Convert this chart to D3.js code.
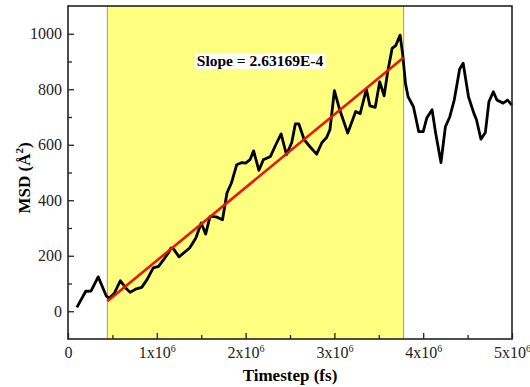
<!DOCTYPE html>
<html>
<head>
<meta charset="utf-8">
<script src="https://cdn.jsdelivr.net/npm/d3@7"></script>
<style>
  body { margin: 0; background: #fff; }
  svg { display: block; font-family: "Liberation Serif", "DejaVu Serif", serif; }
</style>
</head>
<body>
<div id="chart"></div>
<script>
// timestep in units of 1e6 fs
const timestep = [0.10, 0.20, 0.26, 0.34, 0.43, 0.46, 0.52, 0.59, 0.65, 0.70,
  0.77, 0.83, 0.89, 0.96, 1.02, 1.07, 1.13, 1.16, 1.19, 1.25,
  1.37, 1.44, 1.50, 1.55, 1.60, 1.67, 1.74, 1.79, 1.84, 1.90,
  1.96, 2.00, 2.05, 2.09, 2.15, 2.20, 2.28, 2.34, 2.40, 2.46,
  2.52, 2.56, 2.60, 2.66, 2.73, 2.80, 2.86, 2.91, 2.95, 3.00,
  3.06, 3.15, 3.24, 3.29, 3.36, 3.40, 3.46, 3.51, 3.56, 3.60,
  3.65, 3.69, 3.74, 3.77, 3.80, 3.83, 3.89, 3.95, 4.00, 4.04,
  4.10, 4.14, 4.20, 4.25, 4.30, 4.35, 4.41, 4.45, 4.51, 4.57,
  4.60, 4.65, 4.70, 4.74, 4.79, 4.83, 4.90, 4.95, 5.00];
const msd = [14, 72, 73, 124, 56, 47, 64, 110, 84, 68,
  81, 86, 114, 156, 162, 183, 210, 228, 224, 196,
  228, 264, 318, 278, 342, 340, 330, 426, 462, 528,
  536, 534, 546, 578, 508, 546, 558, 600, 639, 564,
  608, 675, 675, 618, 591, 566, 608, 625, 654, 795,
  726, 642, 720, 712, 800, 740, 735, 827, 776, 863,
  947, 957, 995, 923, 822, 773, 737, 647, 647, 696,
  726, 642, 536, 665, 701, 762, 872, 894, 773, 714,
  690, 620, 644, 755, 791, 761, 750, 761, 743];

// fit window and fit line
const fitRange = [0.443, 3.78];
const fitStart = [0.443, 36];
const slope = 2.63169E-4;
const slopeLabel = "Slope = 2.63169E-4";

const xTicks = [0, 1, 2, 3, 4, 5];
const xMinor = [0.5, 1.5, 2.5, 3.5, 4.5];
const yTicks = [0, 200, 400, 600, 800, 1000];
const yMinor = [100, 300, 500, 700, 900];

const width = 530, height = 387;
const margin = {top: 6, right: 18, bottom: 48, left: 68};
const serif = '"Liberation Serif", "DejaVu Serif", serif';

const svg = d3.select("#chart").append("svg")
  .attr("width", width)
  .attr("height", height);

const x = d3.scaleLinear().domain([0, 5]).range([margin.left, width - margin.right]);
const y = d3.scaleLinear().domain([-100, 1100]).range([height - margin.bottom, margin.top]);

// fit region
svg.append("rect")
  .attr("x", x(fitRange[0]))
  .attr("y", y(1100))
  .attr("width", x(fitRange[1]) - x(fitRange[0]))
  .attr("height", y(-100) - y(1100))
  .attr("fill", "#ffff80");
fitRange.forEach(v => {
  svg.append("line")
    .attr("x1", x(v)).attr("x2", x(v))
    .attr("y1", y(1100)).attr("y2", y(-100))
    .attr("stroke", "#9a9a78").attr("stroke-width", 1);
});

// axes, ticks pointing inward
const xAxis = svg.append("g")
  .attr("transform", `translate(0,${y(-100)})`)
  .call(d3.axisBottom(x).tickValues(xTicks).tickSize(-6).tickPadding(8)
    .tickFormat(d => d === 0 ? "0" : d + "x10"));
xAxis.selectAll(".tick text")
  .attr("font-size", 16)
  .attr("fill", "#222")
  .each(function(d) {
    if (d !== 0) {
      d3.select(this).append("tspan")
        .attr("dy", -6).attr("font-size", 10).text("6");
    }
  });
svg.append("g")
  .attr("transform", `translate(0,${y(-100)})`)
  .call(d3.axisBottom(x).tickValues(xMinor).tickSize(-4).tickFormat(""));

const yAxis = svg.append("g")
  .attr("transform", `translate(${x(0)},0)`)
  .call(d3.axisLeft(y).tickValues(yTicks).tickSize(-6).tickPadding(6).tickFormat(d3.format("d")));
yAxis.selectAll(".tick text").attr("font-size", 16).attr("fill", "#222");
svg.append("g")
  .attr("transform", `translate(${x(0)},0)`)
  .call(d3.axisLeft(y).tickValues(yMinor).tickSize(-4).tickFormat(""));

svg.selectAll("g").attr("font-family", serif);
svg.selectAll(".domain").remove();
svg.selectAll(".tick line").attr("stroke", "#222").attr("stroke-width", 1.3);

// data line
const line = d3.line()
  .x((d, i) => x(timestep[i]))
  .y(d => y(d));
svg.append("path")
  .datum(msd)
  .attr("fill", "none")
  .attr("stroke", "#000")
  .attr("stroke-width", 2.8)
  .attr("stroke-linejoin", "round")
  .attr("d", line);

// linear fit
const fitEnd = fitStart[1] + slope * (fitRange[1] - fitStart[0]) * 1e6;
svg.append("line")
  .attr("x1", x(fitStart[0])).attr("y1", y(fitStart[1]))
  .attr("x2", x(fitRange[1])).attr("y2", y(fitEnd))
  .attr("stroke", "#e8170c")
  .attr("stroke-width", 2.6);

// frame
svg.append("rect")
  .attr("x", x(0)).attr("y", y(1100))
  .attr("width", x(5) - x(0)).attr("height", y(-100) - y(1100))
  .attr("fill", "none").attr("stroke", "#222").attr("stroke-width", 1.6);

// slope label
const lblBg = svg.append("rect").attr("fill", "#fff");
const lbl = svg.append("text")
  .attr("x", 260).attr("y", 66)
  .attr("text-anchor", "middle")
  .attr("font-size", 15.5)
  .attr("font-weight", "bold")
  .text(slopeLabel);
const bb = lbl.node().getBBox();
lblBg.attr("x", bb.x - 2).attr("y", bb.y + 1)
  .attr("width", bb.width + 4).attr("height", bb.height - 1);

// axis titles
svg.append("text")
  .attr("x", 290).attr("y", 381)
  .attr("text-anchor", "middle")
  .attr("font-size", 17).attr("font-weight", "bold")
  .text("Timestep (fs)");
const yt = svg.append("text")
  .attr("transform", "translate(30,178) rotate(-90)")
  .attr("text-anchor", "middle")
  .attr("font-size", 17).attr("font-weight", "bold");
yt.append("tspan").text("MSD (Å");
yt.append("tspan").attr("dy", -7).attr("font-size", 11).text("2");
yt.append("tspan").attr("dy", 7).text(")");
</script>
</body>
</html>
